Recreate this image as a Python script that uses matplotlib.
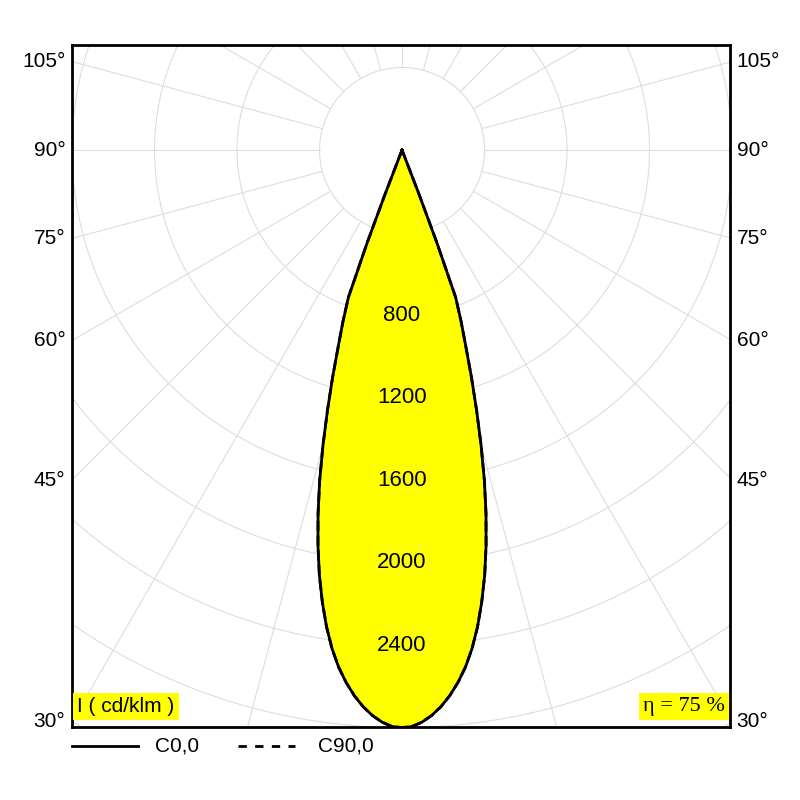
import numpy as np
import matplotlib.pyplot as plt

plt.rcParams['font.family'] = ['Liberation Sans', 'DejaVu Sans']

# luminous intensity (cd/klm) vs angle from nadir (deg)
angles = [0, 1, 2, 3, 4, 5, 6, 7, 8, 9, 10, 11, 12, 13, 14, 15, 16, 17, 18, 19, 20, 20.6, 21, 21.3]
c0 = [2800, 2795, 2775, 2745, 2705, 2655, 2595, 2525, 2440, 2340, 2225, 2100, 1960, 1810,
      1650, 1480, 1310, 1150, 1000, 880, 760, 480, 230, 0]
c90 = c0
ring_values = [800, 1200, 1600, 2000, 2400]
angle_labels = [30, 45, 60, 75, 90, 105]
eta = "η = 75 %"

fig = plt.figure(figsize=(8, 8), dpi=100)
ax = fig.add_axes([72 / 800, 1 - 727 / 800, 658 / 800, 682 / 800])
xmin, xmax, ymin, ymax = -1600, 1590, -2797, 509
ax.set_xlim(xmin, xmax)
ax.set_ylim(ymin, ymax)
ax.set_xticks([])
ax.set_yticks([])
for s in ax.spines.values():
    s.set_linewidth(2)

# grid
t = np.linspace(0, 2 * np.pi, 400)
for r in range(400, 4400, 400):
    ax.plot(r * np.cos(t), r * np.sin(t), color='#dddddd', lw=0.8, zorder=1)
for a in range(0, 360, 15):
    ar = np.radians(a)
    ax.plot([400 * np.sin(ar), 5000 * np.sin(ar)], [-400 * np.cos(ar), -5000 * np.cos(ar)],
            color='#dddddd', lw=0.8, zorder=1)

# curves (mirrored)
th = np.radians(np.array(angles))
I0 = np.array(c0)
x = np.concatenate([-I0[::-1] * np.sin(th[::-1]), I0[1:] * np.sin(th[1:])])
y = np.concatenate([-I0[::-1] * np.cos(th[::-1]), -I0[1:] * np.cos(th[1:])])
ax.fill(x, y, color='#ffff00', zorder=2)
I9 = np.array(c90)
x9 = np.concatenate([-I9[::-1] * np.sin(th[::-1]), I9[1:] * np.sin(th[1:])])
y9 = np.concatenate([-I9[::-1] * np.cos(th[::-1]), -I9[1:] * np.cos(th[1:])])
ax.plot(x9, y9, color='black', lw=2, ls='--', zorder=3)
ax.plot(x, y, color='black', lw=2, zorder=4)

for v in ring_values:
    ax.text(0, -v, str(v), ha='center', va='center', fontsize=16, zorder=5)

for a in angle_labels:
    ar = np.radians(a)
    yy = -1600 * np.cos(ar) / np.sin(ar)
    ax.text(-0.01, (yy - ymin) / (ymax - ymin), f"{a}°", transform=ax.transAxes,
            ha='right', va='center', fontsize=15)
    ax.text(1.01, (yy - ymin) / (ymax - ymin), f"{a}°", transform=ax.transAxes,
            ha='left', va='center', fontsize=15)

ax.text(0.008, 0.03, "I ( cd/klm )", transform=ax.transAxes, ha='left', va='center',
        fontsize=15, bbox=dict(facecolor='#ffff00', edgecolor='none', pad=3), zorder=6)
ax.text(0.992, 0.03, eta, transform=ax.transAxes, ha='right', va='center',
        fontsize=16, family='Liberation Serif',
        bbox=dict(facecolor='#ffff00', edgecolor='none', pad=3), zorder=6)

# legend below
fig.lines.append(plt.Line2D([72 / 800, 138 / 800], [1 - 746 / 800] * 2, color='black', lw=2,
                            transform=fig.transFigure))
fig.text(155 / 800, 1 - 746 / 800, "C0,0", ha='left', va='center', fontsize=15)
fig.lines.append(plt.Line2D([238 / 800, 295 / 800], [1 - 746 / 800] * 2, color='black', lw=2,
                            ls=(0, (3, 3)), transform=fig.transFigure))
fig.text(318 / 800, 1 - 746 / 800, "C90,0", ha='left', va='center', fontsize=15)

fig.savefig('out.png', dpi=100)
